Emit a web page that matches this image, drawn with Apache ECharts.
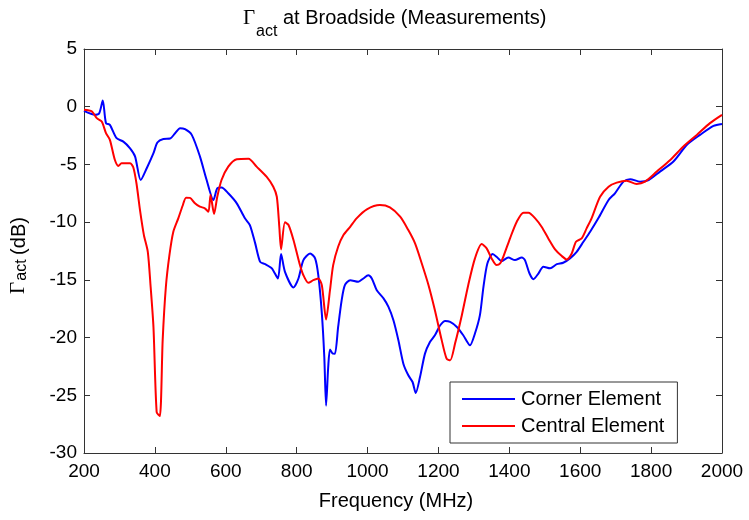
<!DOCTYPE html>
<html>
<head>
<meta charset="utf-8">
<script src="https://cdn.jsdelivr.net/npm/echarts@6/dist/echarts.min.js"></script>
<style>html,body{margin:0;padding:0;background:#fff}#c{width:749px;height:520px}</style>
</head>
<body>
<div id="c"></div>
<script>
var xTicks = [200, 400, 600, 800, 1000, 1200, 1400, 1600, 1800, 2000];
var yTicks = [-30, -25, -20, -15, -10, -5, 0, 5];
var seriesNames = ['Corner Element', 'Central Element'];

var cornerFreq = [200,231,243,253,262,273,292,311,330,344,360,377,396,407,424,443,457,471,485,504,527,546,565,576,588,607,631,654,668,683,697,711,730,747,756,767,791,805,819,838,852,861,871,878,883,889,894,902,908,917,927,936,951,974,988,1002,1012,1026,1045,1059,1073,1087,1101,1115,1127,1136,1148,1162,1176,1190,1205,1219,1233,1252,1270,1289,1303,1317,1327,1338,1353,1364,1378,1397,1416,1435,1444,1457,1468,1482,1496,1515,1534,1552,1571,1590,1609,1628,1651,1680,1698,1722,1741,1769,1793,1825,1863,1901,1938,1976,2000];
var cornerVals = [-0.36,-0.7,-0.56,0.54,-1.42,-1.57,-2.73,-3.02,-3.6,-4.3,-6.35,-5.33,-4.03,-3.1,-2.79,-2.76,-2.3,-1.86,-1.95,-2.44,-4.3,-6.35,-8.08,-7.07,-7.0,-7.5,-8.37,-9.67,-10.25,-11.84,-13.44,-13.64,-14.0,-14.88,-12.77,-14.3,-15.66,-14.88,-13.29,-12.71,-13.14,-14.6,-17.9,-21.7,-25.9,-22.55,-21.04,-21.39,-21.4,-19.08,-16.76,-15.46,-15.03,-15.17,-14.88,-14.6,-14.88,-15.9,-16.6,-17.34,-18.5,-20.23,-22.26,-23.27,-23.85,-24.8,-23.42,-21.39,-20.38,-19.8,-18.93,-18.56,-18.64,-19.08,-19.8,-20.67,-19.65,-18.06,-15.6,-13.58,-12.77,-13.0,-13.38,-13.06,-13.29,-13.06,-13.29,-14.45,-14.94,-14.45,-13.87,-14.0,-13.64,-13.52,-13.14,-12.57,-11.7,-10.83,-9.67,-8.08,-7.5,-6.49,-6.28,-6.49,-6.35,-5.62,-4.75,-3.3,-2.44,-1.66,-1.49];

var centralFreq = [200,222,236,250,262,273,287,297,306,330,339,348,358,369,380,388,396,405,414,422,431,441,452,466,478,488,499,513,527,541,551,557,567,576,588,607,631,664,687,715,734,744,751,756,767,777,791,808,819,833,847,861,871,883,894,903,917,932,951,969,998,1035,1063,1092,1115,1134,1153,1172,1190,1209,1223,1233,1247,1266,1284,1303,1322,1336,1350,1364,1374,1383,1402,1421,1440,1454,1473,1491,1510,1529,1548,1562,1576,1588,1604,1618,1632,1656,1680,1703,1731,1759,1783,1816,1854,1891,1929,1966,2000];
var centralVals = [-0.27,-0.41,-0.99,-1.28,-2.29,-2.87,-4.6,-5.13,-4.9,-4.9,-5.24,-6.63,-8.95,-11.12,-12.57,-15.6,-19.1,-26.46,-26.8,-20.2,-15.6,-12.86,-10.83,-9.67,-8.6,-7.88,-7.9,-8.37,-8.66,-8.8,-9.1,-7.65,-9.3,-7.8,-6.35,-5.19,-4.55,-4.5,-5.19,-6.06,-6.93,-7.8,-10.4,-12.36,-10.02,-10.25,-11.55,-13.58,-14.6,-15.26,-15.03,-14.88,-15.46,-18.44,-15.9,-13.72,-12.13,-11.12,-10.4,-9.67,-8.89,-8.52,-8.72,-9.53,-10.69,-11.84,-13.58,-15.46,-17.63,-20.2,-21.83,-21.97,-20.5,-18.06,-15.46,-13.14,-11.9,-12.27,-13.14,-13.72,-13.58,-13.0,-11.4,-9.96,-9.18,-9.18,-9.67,-10.4,-11.41,-12.36,-12.94,-13.23,-12.71,-11.7,-11.41,-10.54,-9.67,-7.8,-6.93,-6.58,-6.41,-6.69,-6.49,-5.62,-4.61,-3.45,-2.44,-1.42,-0.7];

function pairs(xs, ys) { return xs.map(function (x, i) { return [x, ys[i]]; }); }

var FONT = "'Liberation Sans', Arial, Helvetica, sans-serif";
var SERIF = "'Liberation Serif', 'Times New Roman', serif";
var axisColor = '#333';
function plain(v) { return String(v); }

function xAx(pos, showLabel) {
  return {
    type: 'value', position: pos, min: xTicks[0], max: xTicks[xTicks.length - 1],
    interval: xTicks[1] - xTicks[0],
    axisLine: { show: true, onZero: false, lineStyle: { color: axisColor, width: 1 } },
    axisTick: { show: true, inside: true, length: 6, lineStyle: { color: axisColor } },
    axisLabel: { show: showLabel, color: '#000', fontSize: 19, fontFamily: FONT, margin: 9, formatter: plain },
    splitLine: { show: false }
  };
}
function yAx(pos, showLabel) {
  return {
    type: 'value', position: pos, min: yTicks[0], max: yTicks[yTicks.length - 1],
    interval: yTicks[1] - yTicks[0],
    axisLine: { show: true, onZero: false, lineStyle: { color: axisColor, width: 1 } },
    axisTick: { show: true, inside: true, length: 6, lineStyle: { color: axisColor } },
    axisLabel: { show: showLabel, color: '#000', fontSize: 19, fontFamily: FONT, margin: 7, formatter: plain },
    splitLine: { show: false }
  };
}

var chart = echarts.init(document.getElementById('c'), null, { renderer: 'canvas' });
chart.setOption({
  backgroundColor: '#fff',
  animation: false,
  grid: { left: 84, right: 27, top: 49, bottom: 67, containLabel: false },
  xAxis: [xAx('bottom', true), xAx('top', false)],
  yAxis: [yAx('left', true), yAx('right', false)],
  legend: {
    left: 450, top: 382, orient: 'vertical',
    data: seriesNames,
    icon: 'rect', itemWidth: 53, itemHeight: 2, itemGap: 7,
    padding: [7, 13, 7, 12],
    borderColor: '#333', borderWidth: 1, backgroundColor: '#fff',
    textStyle: { color: '#000', fontSize: 20, fontFamily: FONT, padding: [0, 0, 0, 1], lineHeight: 20 }
  },
  graphic: [
    { type: 'text', left: 243, top: 8, style: { text: 'Γ', font: '21px ' + SERIF, fill: '#000' } },
    { type: 'text', left: 256, top: 24, style: { text: 'act', font: '16px ' + FONT, fill: '#000' } },
    { type: 'text', left: 283, top: 8, style: { text: 'at Broadside (Measurements)', font: '20px ' + FONT, fill: '#000' } },
    { type: 'text', x: 18, y: 288, rotation: Math.PI / 2, style: { text: 'Γ', font: '21px ' + SERIF, fill: '#000', align: 'center', verticalAlign: 'middle' } },
    { type: 'text', x: 22, y: 270, rotation: Math.PI / 2, style: { text: 'act', font: '16px ' + FONT, fill: '#000', align: 'center', verticalAlign: 'middle' } },
    { type: 'text', x: 19, y: 236, rotation: Math.PI / 2, style: { text: '(dB)', font: '20px ' + FONT, fill: '#000', align: 'center', verticalAlign: 'middle' } },
    { type: 'text', x: 396, y: 501, style: { text: 'Frequency (MHz)', font: '20px ' + FONT, fill: '#000', align: 'center', verticalAlign: 'middle' } }
  ],
  series: [
    { name: seriesNames[0], type: 'line', data: pairs(cornerFreq, cornerVals), symbol: 'none', smooth: 0.25,
      lineStyle: { color: '#0000ff', width: 2 }, itemStyle: { color: '#0000ff' }, z: 2 },
    { name: seriesNames[1], type: 'line', data: pairs(centralFreq, centralVals), symbol: 'none', smooth: 0.25,
      lineStyle: { color: '#ff0000', width: 2 }, itemStyle: { color: '#ff0000' }, z: 3 }
  ]
});
</script>
</body>
</html>
